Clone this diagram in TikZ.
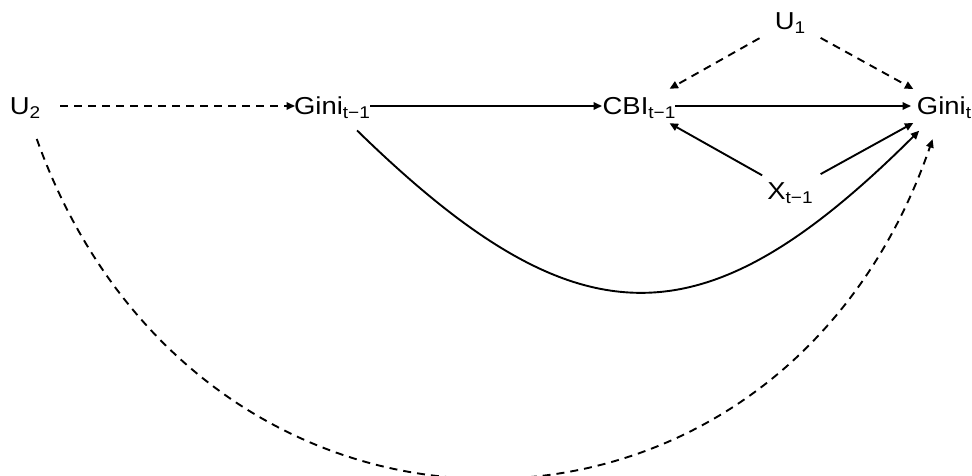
\documentclass[tikz,border=0pt]{standalone}
\usepackage{fontspec}
\setmainfont{Liberation Sans}[FakeStretch=1.12]
\usetikzlibrary{arrows.meta}
\newcommand{\sbx}[1]{\raisebox{-4pt}{\fontsize{17}{17}\selectfont #1}}
\begin{document}
\begin{tikzpicture}[x=1pt,y=-1pt,
  lbl/.style={inner sep=0pt, text height=17pt, text depth=0pt, font=\fontsize{24.5}{24.5}\selectfont},
  edge/.style={line width=1.9pt, -{Triangle[length=8.5pt,width=7.5pt]}, shorten <=35pt, shorten >=35pt},
  dsh/.style={dash pattern=on 8pt off 6pt}]
\useasboundingbox (0,0) rectangle (972,476);
\node[lbl] (u2) at (25,106) {U\sbx{2}};
\node[lbl] (g1) at (332,106) {Gini\sbx{t−1}};
\node[lbl] (cbi) at (639,106) {CBI\sbx{t−1}};
\node[lbl] (gt) at (944,106) {Gini\sbx{t}};
\node[lbl] (u1) at (790,21) {U\sbx{1}};
\node[lbl] (x) at (790,191) {X\sbx{t−1}};
\draw[edge,dsh,shorten >=37pt] (u2.center) -- (g1.center);
\draw[edge,shorten <=38pt,shorten >=37pt] (g1.center) -- (cbi.center);
\draw[edge,shorten <=36pt,shorten >=33pt] (cbi.center) -- (gt.center);
\draw[edge,dsh] (u1.center) -- (cbi.center);
\draw[edge,dsh] (u1.center) -- (gt.center);
\draw[edge,shorten <=32pt] (x.center) -- (cbi.center);
\draw[edge] (x.center) -- (gt.center);
\draw[edge] (g1.center) .. controls (578,346) and (703,346) .. (gt.center);
\draw[edge,dsh] (u2.center) .. controls (198,591) and (777,591) .. (gt.center);
\end{tikzpicture}
\end{document}
